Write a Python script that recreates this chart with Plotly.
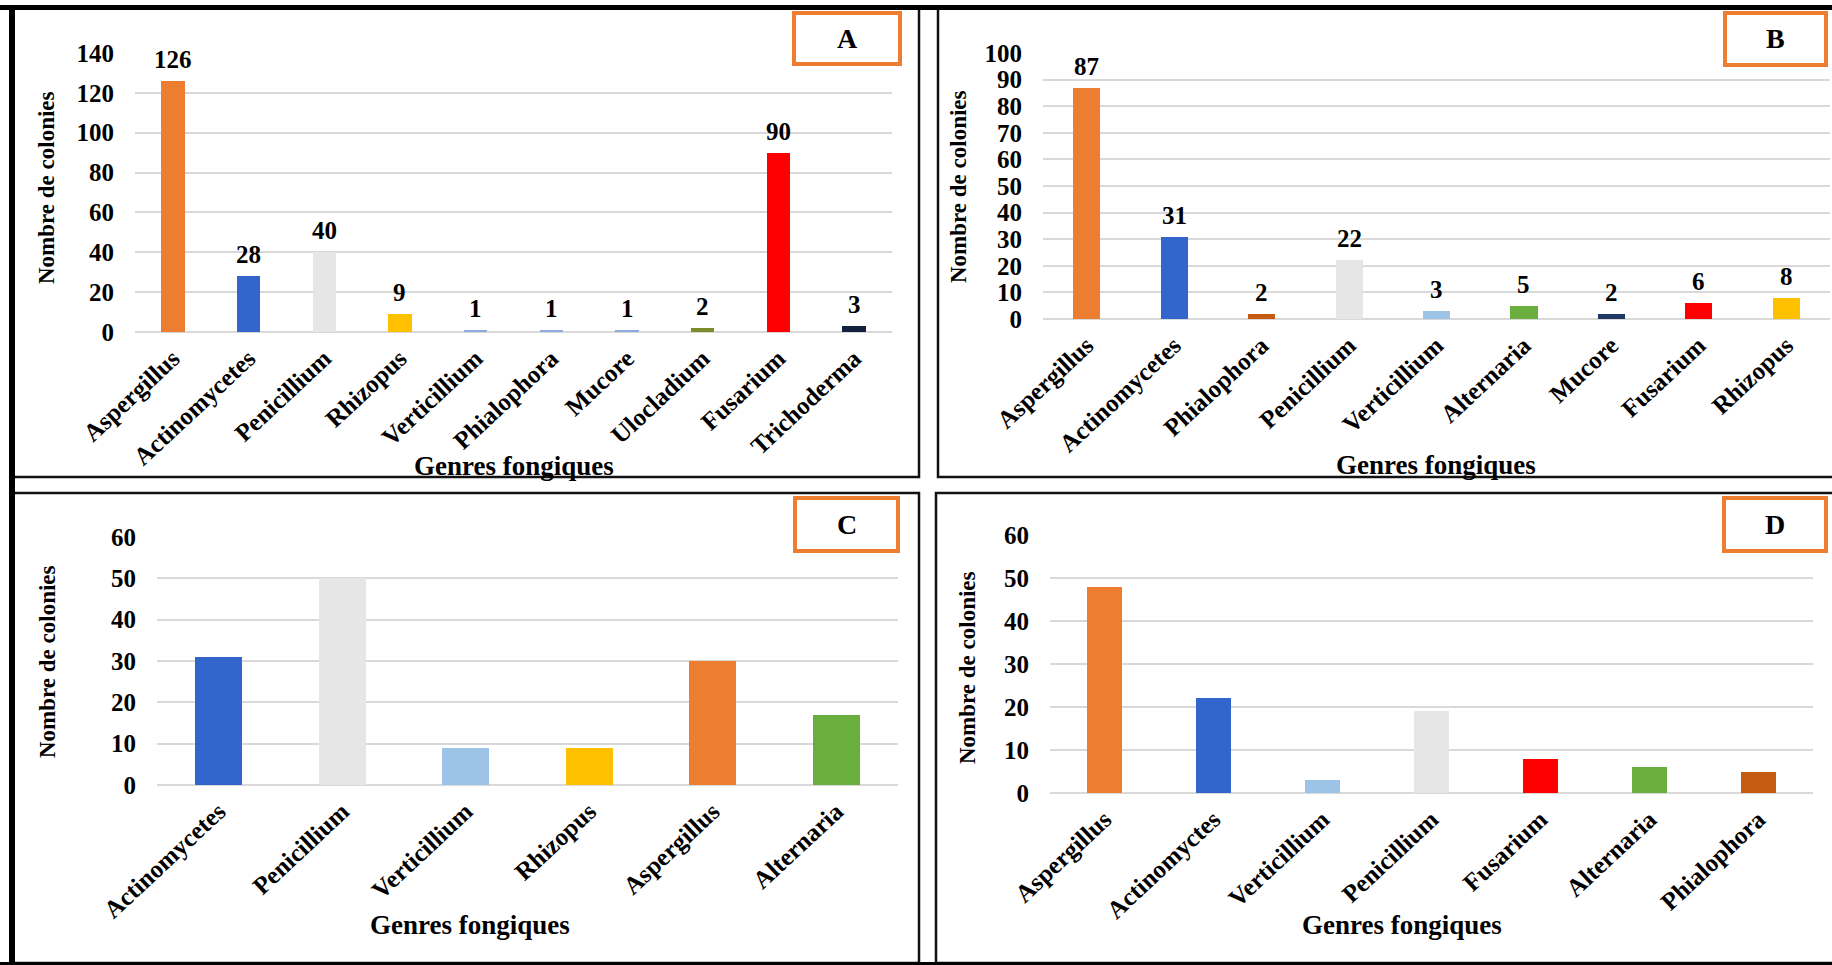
import plotly.graph_objects as go

W, H = 1832, 965

# ---- data ----
cats_a = ["Aspergillus", "Actinomycetes", "Penicillium", "Rhizopus", "Verticillium",
          "Phialophora", "Mucore", "Ulocladium", "Fusarium", "Trichoderma"]
vals_a = [126, 28, 40, 9, 1, 1, 1, 2, 90, 3]

cats_b = ["Aspergillus", "Actinomycetes", "Phialophora", "Penicillium", "Verticillium",
          "Alternaria", "Mucore", "Fusarium", "Rhizopus"]
vals_b = [87, 31, 2, 22, 3, 5, 2, 6, 8]

cats_c = ["Actinomycetes", "Penicillium", "Verticillium", "Rhizopus", "Aspergillus", "Alternaria"]
vals_c = [31, 50, 9, 9, 30, 17]

cats_d = ["Aspergillus", "Actinomyctes", "Verticillium", "Penicillium", "Fusarium",
          "Alternaria", "Phialophora"]
vals_d = [48, 22, 3, 19, 8, 6, 5]

# ---- colours ----
ORANGE = "#ED7D31"
BLUE = "#3366CC"
GREY = "#E7E6E6"
YELLOW = "#FFC000"
LBLUE = "#9DC3E6"
PALEBLUE = "#8FAADC"
OLIVE = "#7F8A2B"
RED = "#FF0000"
NAVY = "#14213D"
DNAVY = "#1F3864"
BROWN = "#C55A11"
GREEN = "#6AAE3E"

cols_a = [ORANGE, BLUE, GREY, YELLOW, PALEBLUE, PALEBLUE, PALEBLUE, OLIVE, RED, NAVY]
cols_b = [ORANGE, BLUE, BROWN, GREY, LBLUE, GREEN, DNAVY, RED, YELLOW]
cols_c = [BLUE, GREY, LBLUE, YELLOW, ORANGE, GREEN]
cols_d = [ORANGE, BLUE, LBLUE, GREY, RED, GREEN, BROWN]

FONT = "'Liberation Serif', 'Times New Roman', Times, serif"


def px(x):
    return x / W


def py(y):
    return 1 - y / H


def font(size=22, color="black"):
    return dict(family=FONT, size=size, color=color, weight="bold")


fig = go.Figure()

panels = [
    dict(c=cats_a, v=vals_a, col=cols_a, w=0.31, xd=(135, 892), yd=(332, 53), ymax=140, dt=20, lab=True),
    dict(c=cats_b, v=vals_b, col=cols_b, w=0.31, xd=(1043, 1830), yd=(319, 53), ymax=100, dt=10, lab=True),
    dict(c=cats_c, v=vals_c, col=cols_c, w=0.38, xd=(157, 898), yd=(785, 537), ymax=60, dt=10, lab=False),
    dict(c=cats_d, v=vals_d, col=cols_d, w=0.32, xd=(1050, 1813), yd=(793, 535), ymax=60, dt=10, lab=False),
]

annotations = []
for i, p in enumerate(panels, start=1):
    xa = "x" if i == 1 else f"x{i}"
    ya = "y" if i == 1 else f"y{i}"
    fig.add_trace(go.Bar(
        x=p["c"], y=p["v"], width=p["w"],
        marker=dict(color=p["col"], line=dict(width=0)),
        xaxis=xa, yaxis=ya, showlegend=False, hoverinfo="x+y",
    ))
    xkey = "xaxis" if i == 1 else f"xaxis{i}"
    ykey = "yaxis" if i == 1 else f"yaxis{i}"
    fig.layout[xkey] = dict(
        domain=[px(p["xd"][0]), px(p["xd"][1])],
        anchor=ya, type="category", range=[-0.5, len(p["c"]) - 0.5],
        tickangle=-43, tickfont=font(25), showline=False, showgrid=False,
        ticks="", ticklabelstandoff=6, automargin=False, fixedrange=True,
    )
    fig.layout[ykey] = dict(
        domain=[py(p["yd"][0]), py(p["yd"][1])],
        anchor=xa, range=[0, p["ymax"]], dtick=p["dt"], tick0=0,
        tickfont=font(25), showline=False, showgrid=True,
        gridcolor="#D9D9D9", gridwidth=2, zeroline=True,
        zerolinecolor="#D9D9D9", zerolinewidth=2,
        ticks="", ticklabelstandoff=20, automargin=False, fixedrange=True,
    )
    if p["lab"]:
        for c, v in zip(p["c"], p["v"]):
            annotations.append(dict(
                x=c, y=v, xref=xa, yref=ya, text=str(v), showarrow=False,
                yanchor="bottom", yshift=6, font=font(25),
            ))

# axis titles
ytitles = [(47, 188), (958, 187), (47, 662), (967, 668)]
xtitles = [(514, 466), (1436, 465), (470, 925), (1402, 925)]
for (x, y) in ytitles:
    annotations.append(dict(x=px(x), y=py(y), xref="paper", yref="paper",
                            text="Nombre de colonies", textangle=-90, showarrow=False,
                            xanchor="center", yanchor="middle", font=font(23)))
for (x, y) in xtitles:
    annotations.append(dict(x=px(x), y=py(y), xref="paper", yref="paper",
                            text="Genres fongiques", showarrow=False,
                            xanchor="center", yanchor="middle", font=font(27)))

# panel letters in orange boxes
shapes = []
boxes = [("A", 794, 13, 900, 64), ("B", 1725, 13, 1826, 65),
         ("C", 795, 498, 898, 551), ("D", 1724, 498, 1826, 551)]
for letter, x0, y0, x1, y1 in boxes:
    shapes.append(dict(type="rect", xref="paper", yref="paper",
                       x0=px(x0), x1=px(x1), y0=py(y1), y1=py(y0),
                       line=dict(color=ORANGE, width=4), fillcolor="white", layer="above"))
    annotations.append(dict(x=px((x0 + x1) / 2), y=py((y0 + y1) / 2), xref="paper", yref="paper",
                            text=letter, showarrow=False, xanchor="center", yanchor="middle",
                            font=font(28)))

# panel frames
frames = [(12, 8, 919, 477), (938, 8, 1845, 477), (12, 493, 919, 963), (936, 493, 1845, 963)]
for x0, y0, x1, y1 in frames:
    shapes.append(dict(type="rect", xref="paper", yref="paper",
                       x0=px(x0), x1=px(x1), y0=py(y1), y1=py(y0),
                       line=dict(color="#111111", width=2.5), fillcolor="rgba(0,0,0,0)", layer="below"))
# heavier outer edges
shapes.append(dict(type="line", xref="paper", yref="paper", x0=px(0), x1=px(W), y0=py(7.5), y1=py(7.5),
                   line=dict(color="black", width=5)))
shapes.append(dict(type="line", xref="paper", yref="paper", x0=px(12), x1=px(12), y0=py(5), y1=py(965),
                   line=dict(color="black", width=6)))
shapes.append(dict(type="line", xref="paper", yref="paper", x0=px(0), x1=px(W), y0=py(963.5), y1=py(963.5),
                   line=dict(color="black", width=3)))

fig.update_layout(
    width=W, height=H, margin=dict(l=0, r=0, t=0, b=0),
    paper_bgcolor="white", plot_bgcolor="white",
    annotations=annotations, shapes=shapes, bargap=0,
)

fig.write_html("out.html", config={"displayModeBar": False})
